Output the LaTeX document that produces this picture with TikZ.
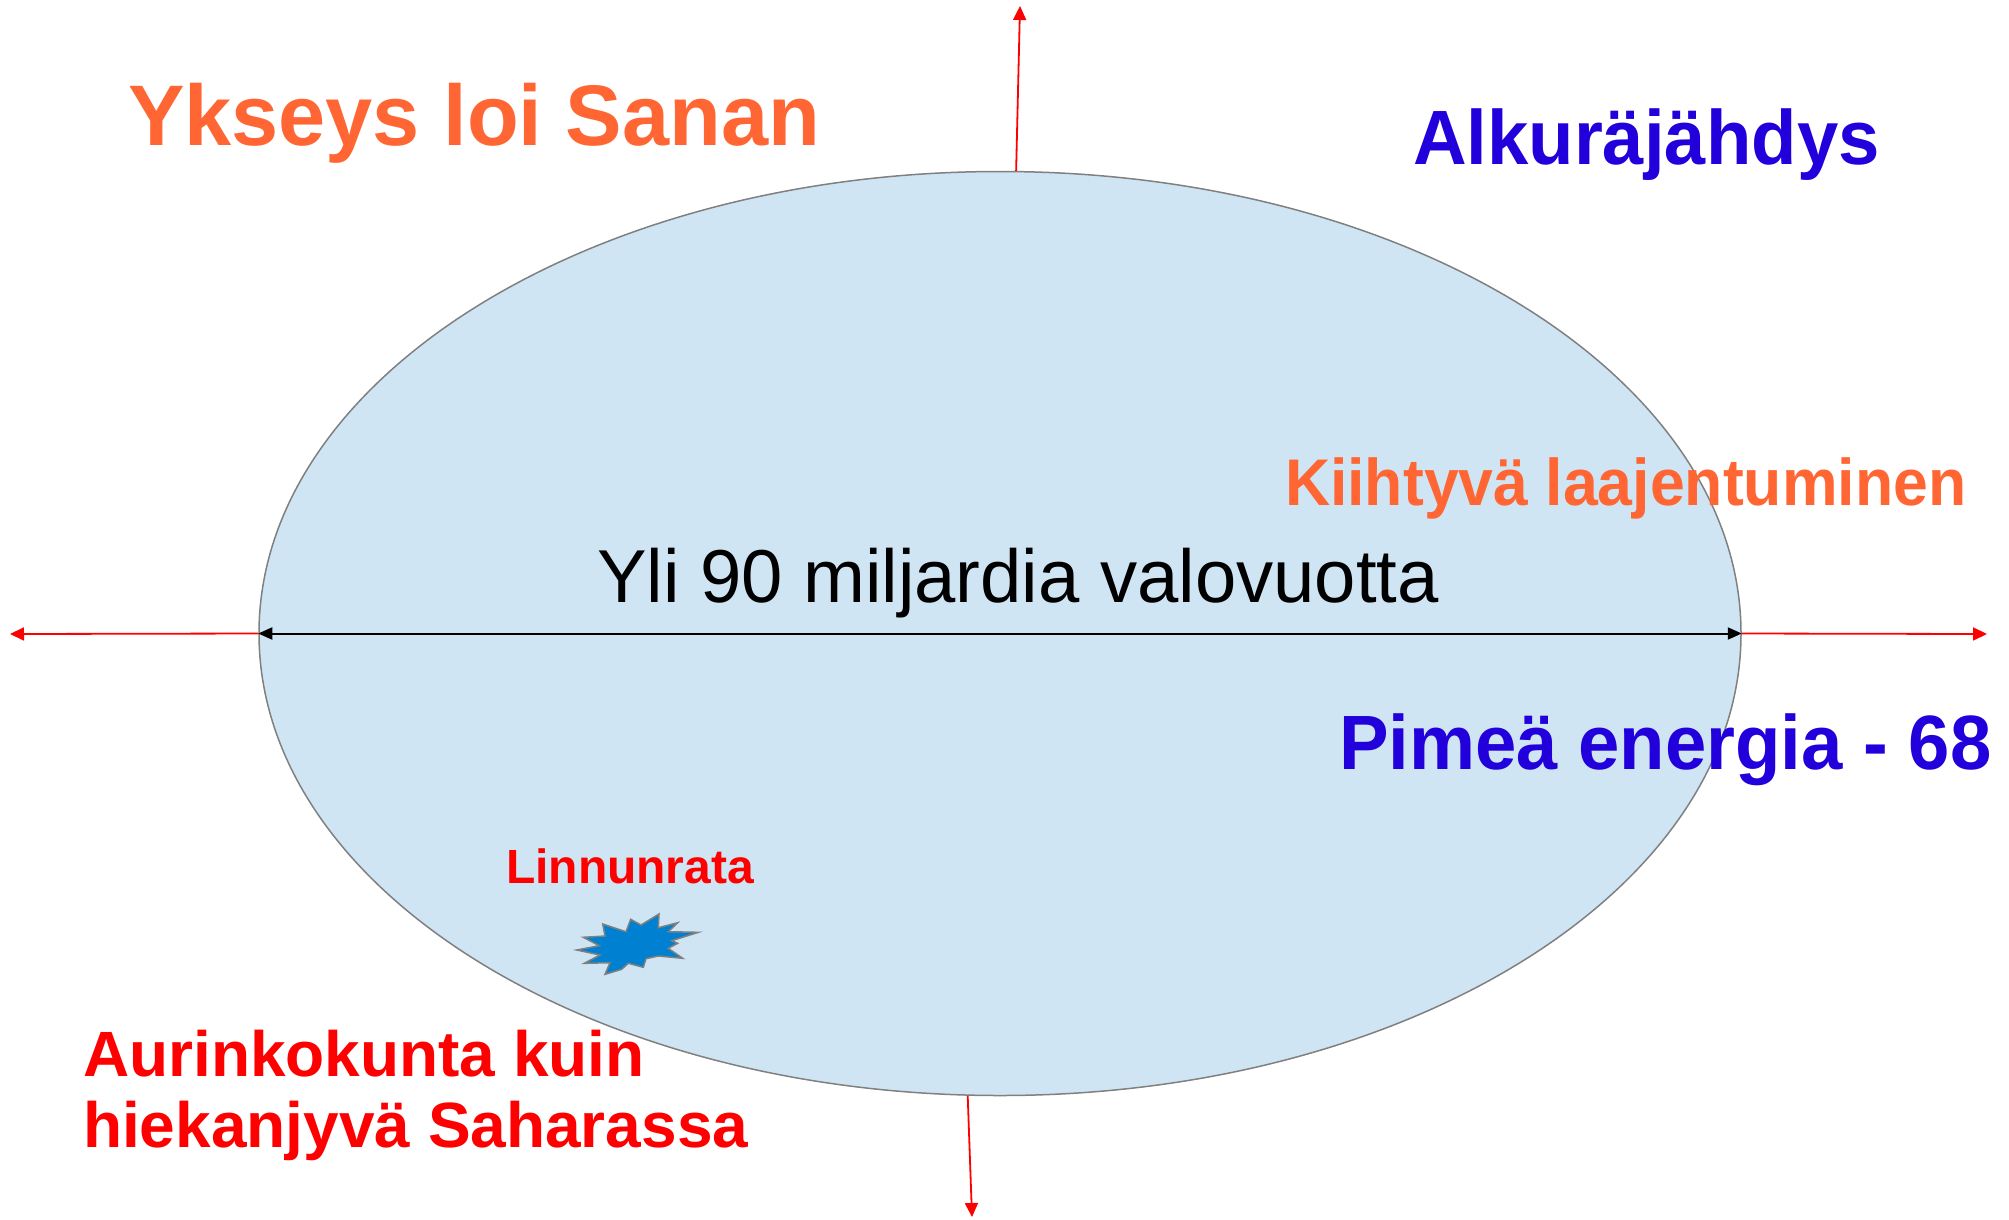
\documentclass[tikz,border=0pt]{standalone}
\usepackage{fontspec}
\setmainfont{Liberation Sans}
\usetikzlibrary{shapes.geometric,arrows.meta}
\definecolor{orng}{HTML}{FF6633}
\definecolor{blu}{HTML}{2200DC}
\definecolor{ellfill}{HTML}{CFE5F3}
\definecolor{ellline}{HTML}{808080}
\definecolor{starfill}{HTML}{0080D0}
\tikzset{
  lbl/.style={inner sep=0pt, outer sep=0pt, anchor=base west},
  redarrow/.style={draw=red, line width=1.8pt, -{Triangle[length=14pt,width=13pt]}},
  axisarrow/.style={draw=black, line width=2pt, {Triangle[length=14pt,width=12pt]}-{Triangle[length=14pt,width=12pt]}},
}
\newcommand{\fsz}[1]{\fontsize{#1}{#1}\selectfont}
\begin{document}
\begin{tikzpicture}[x=1pt,y=-1pt]
\useasboundingbox (0,0) rectangle (2009,1219);
\node[ellipse, draw=ellline, fill=ellfill, line width=1.5pt, inner sep=0pt,
      minimum width=1482pt, minimum height=924pt] (ell) at (1000,633.5) {};
% axis
\draw[axisarrow] (ell.west) -- (ell.east);
% red expansion arrows
\coordinate (lt) at (10,634);
\coordinate (rt) at (1987,634);
\coordinate (tp) at (1020,6);
\coordinate (bt) at (972,1217);
\draw[redarrow] (ell.west) -- (lt);
\draw[redarrow] (ell.east) -- (rt);
\draw[redarrow] (ell.88) -- (tp);
\draw[redarrow] (ell.266) -- (bt);
% starburst
\filldraw[fill=starfill, draw=ellline, line width=1.5pt]
 (576.7,950) -- (599.3,945.7) -- (583.3,937.3) -- (605,936) -- (602.7,924)
 -- (626,931.7) -- (630.7,919.3) -- (641,925) -- (659,914) -- (658.3,927.7)
 -- (677.7,922.7) -- (668.3,931.7) -- (698.3,932.3) -- (671.7,940.7)
 -- (677.7,943.3) -- (668.3,948.3) -- (682.7,958.3) -- (658.3,956)
 -- (646,958.7) -- (643.3,967.3) -- (628.3,963.3) -- (621.7,969.3)
 -- (605,974.3) -- (610,962.7) -- (584.3,963.3) -- (600,955) -- cycle;
% texts
\node[lbl, text=orng, font=\fsz{86}\bfseries] (ykseys) at (128,145) {\scalebox{0.985}[1]{Ykseys loi Sanan}};
\node[lbl, text=blu, font=\fsz{77}\bfseries] (alku) at (1413,164) {\scalebox{0.965}[1]{Alkuräjähdys}};
\node[lbl, text=orng, font=\fsz{66}\bfseries] (kiiht) at (1285,505) {\scalebox{0.948}[1]{Kiihtyvä laajentuminen}};
\node[lbl, text=black, font=\fsz{75}] (yli) at (597,602) {\scalebox{0.99}[1]{Yli 90 miljardia valovuotta}};
\node[lbl, text=blu, font=\fsz{77}\bfseries] (pimea) at (1339,769) {\scalebox{0.965}[1]{Pimeä energia - 68}};
\node[lbl, text=red, font=\fsz{48}\bfseries] (linnun) at (506,883) {Linnunrata};
\node[lbl, text=red, font=\fsz{64}\bfseries] (aur1) at (83,1076) {Aurinkokunta kuin};
\node[lbl, text=red, font=\fsz{64}\bfseries] (aur2) at (83,1147) {hiekanjyvä Saharassa};
\end{tikzpicture}
\end{document}
